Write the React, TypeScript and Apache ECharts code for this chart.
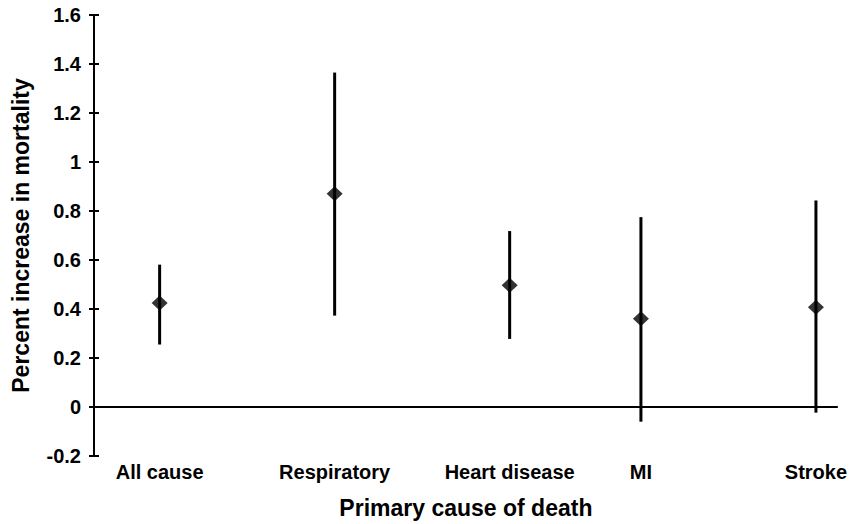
import React, { useEffect, useRef } from "react";
import * as echarts from "echarts";

// Category labels and their slot positions along the x axis (17 equal slots)
const categoryNames = ["All cause", "Respiratory", "Heart disease", "MI", "Stroke"];
const categorySlots = [1, 5, 9, 12, 16];
const slotCount = 17;

// Estimates (percent increase) and confidence bounds
const estimates = [0.425, 0.87, 0.497, 0.36, 0.407];
const lowerBounds = [0.255, 0.373, 0.278, -0.06, -0.023];
const upperBounds = [0.581, 1.365, 0.718, 0.775, 0.843];

const yTicks = { min: -0.2, max: 1.6, interval: 0.2 };

const FONT = "'Liberation Sans', Arial, Helvetica, sans-serif";

export default function App() {
  const ref = useRef<HTMLDivElement>(null);

  useEffect(() => {
    if (!ref.current) return;
    const chart = echarts.init(ref.current, undefined, { renderer: "svg" });

    const slotLabels: string[] = Array.from({ length: slotCount }, () => "");
    categorySlots.forEach((s, i) => {
      slotLabels[s] = categoryNames[i];
    });

    const points = categorySlots.map((s, i) => [s, estimates[i]]);
    const bars = categorySlots.map((s, i) => [s, lowerBounds[i], upperBounds[i]]);

    chart.setOption({
      animation: false,
      backgroundColor: "#ffffff",
      grid: { left: 94, right: 10, top: 15, bottom: 67 },
      xAxis: {
        type: "category",
        data: slotLabels,
        boundaryGap: true,
        axisLine: { show: false },
        axisTick: { show: false },
        splitLine: { show: false },
        axisLabel: {
          interval: 0,
          margin: 6,
          color: "#000",
          fontFamily: FONT,
          fontWeight: "bold",
          fontSize: 20,
        },
        name: "Primary cause of death",
        nameLocation: "middle",
        nameGap: 40,
        nameTextStyle: {
          color: "#000",
          fontFamily: FONT,
          fontWeight: "bold",
          fontSize: 23,
        },
      },
      yAxis: [
        {
          type: "value",
          min: yTicks.min,
          max: yTicks.max,
          interval: yTicks.interval,
          axisLine: { show: true, lineStyle: { color: "#000", width: 2 } },
          axisTick: { show: true, inside: false, length: 5, lineStyle: { color: "#000", width: 2 } },
          splitLine: { show: false },
          axisLabel: {
            margin: 13,
            color: "#000",
            fontFamily: FONT,
            fontWeight: "bold",
            fontSize: 20,
          },
          name: "Percent increase in mortality",
          nameLocation: "middle",
          nameGap: 62,
          nameTextStyle: {
            color: "#000",
            fontFamily: FONT,
            fontWeight: "bold",
            fontSize: 23,
          },
        },
        {
          type: "value",
          position: "left",
          min: yTicks.min,
          max: yTicks.max,
          interval: yTicks.interval,
          axisLine: { show: false },
          axisTick: { show: true, inside: true, length: 5, lineStyle: { color: "#000", width: 2 } },
          splitLine: { show: false },
          axisLabel: { show: false },
        },
      ],
      series: [
        {
          type: "custom",
          name: "ci",
          data: bars,
          renderItem: (params: any, api: any) => {
            const x = api.value(0);
            const lo = api.coord([x, api.value(1)]);
            const hi = api.coord([x, api.value(2)]);
            return {
              type: "line",
              shape: { x1: lo[0], y1: lo[1], x2: hi[0], y2: hi[1] },
              style: { stroke: "#000", lineWidth: 3 },
            };
          },
          z: 2,
          markLine: {
            silent: true,
            symbol: "none",
            label: { show: false },
            lineStyle: { color: "#000", width: 2, type: "solid" },
            data: [{ yAxis: 0 }],
          },
        },
        {
          type: "scatter",
          name: "estimate",
          data: points,
          symbol: "diamond",
          symbolSize: [16, 15],
          itemStyle: { color: "#000" },
          z: 3,
        },
      ],
    });

    return () => chart.dispose();
  }, []);

  return (
    <div
      ref={ref}
      style={{ position: "fixed", left: 0, top: 0, width: 850, height: 524, background: "#fff" }}
    />
  );
}
